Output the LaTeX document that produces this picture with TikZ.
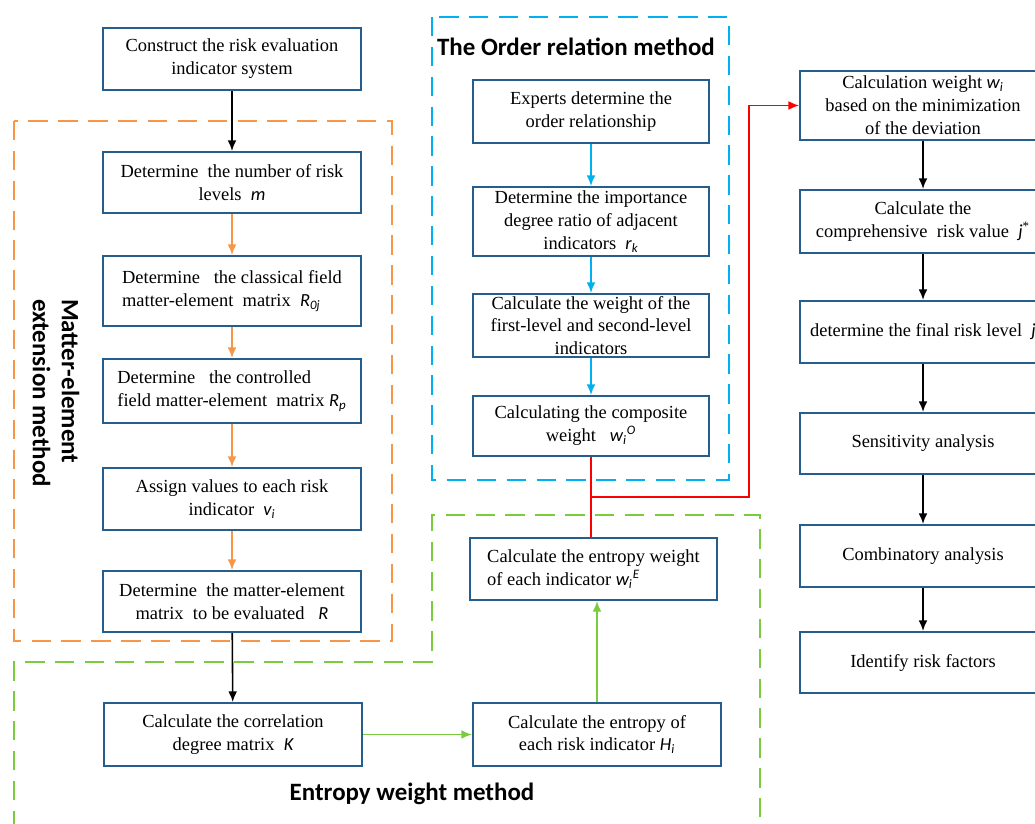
\documentclass[tikz,border=0pt]{standalone}
\usepackage{fontspec}
\setmainfont{Liberation Serif}
\newfontfamily\titlefont{Carlito}
\usetikzlibrary{arrows.meta}
\definecolor{boxblue}{RGB}{37,94,140}
\definecolor{orangeline}{RGB}{247,150,70}
\definecolor{cyanline}{RGB}{0,176,240}
\definecolor{greenline}{RGB}{122,204,60}
\newcommand{\vr}[1]{{\titlefont\itshape #1}}
\begin{document}
\begin{tikzpicture}[x=0.02cm, y=-0.02cm]
      \tikzset{block/.style={draw=boxblue, line width=1.2pt, inner sep=1pt, align=center, font=\fontsize{10.5}{13}\selectfont},
               lblock/.style={block, minimum width=5.16cm},
               oblock/.style={block, minimum width=4.72cm},
               rblock/.style={block, minimum width=4.92cm},
               frame/.style={line width=1.2pt, dash pattern=on 11pt off 6pt},
               title/.style={font=\titlefont\bfseries\fontsize{14.2}{16.5}\selectfont}}
      \useasboundingbox (0,0) rectangle (1035,824);
%% Frames
	%matter-element
		\draw[frame, orangeline] (14,121) rectangle (392,641);
	%order relation
		\draw[frame, cyanline] (432,17) rectangle (729,480);
	%entropy
		\draw[frame, greenline] (14,830) -- (14,662) -- (432,662) -- (432,515) -- (760,515) -- (760,830);
%% Titles
		\node[title, rotate=-90, align=left] (mlabel) at (56,393) {Matter-element\\extension method};
		\node[title] (olabel) at (576,47) {The Order relation method};
		\node[title] (elabel) at (412,794) {Entropy weight method};
%% Blocks
	%left column
		\node[lblock, minimum height=1.24cm] (c1) at (232,59) {Construct the risk evaluation\\indicator system};
		\node[lblock, minimum height=1.22cm] (c2) at (232,182.5) {Determine\ \ the number of risk\\levels\ \ \vr{m}};
		\node[lblock, minimum height=1.40cm, align=left] (c3) at (232,291) {Determine\ \ \ the classical field\\matter-element\ \ matrix\ \ \vr{R}\textsubscript{\vr{0j}}};
		\node[lblock, minimum height=1.28cm, align=left] (c4) at (232,391) {Determine\ \ \ the controlled\\field matter-element\ \ matrix \vr{R}\textsubscript{\vr{p}}};
		\node[lblock, minimum height=1.24cm] (c5) at (232,499) {Assign values to each risk\\indicator\ \ \vr{v}\textsubscript{\vr{i}}};
		\node[lblock, minimum height=1.22cm] (c6) at (232,601.5) {Determine\ \ the matter-element\\matrix\ \ to be evaluated\ \ \ \vr{R}};
		\node[lblock, minimum height=1.26cm] (K) at (233,734.5) {Calculate the correlation\\degree matrix\ \ \vr{K}};
	%order relation column
		\node[oblock, minimum height=1.26cm] (B1) at (591,111.5) {Experts determine the\\order relationship};
		\node[oblock, minimum height=1.38cm] (B2) at (591,221.5) {Determine the importance\\degree ratio of adjacent\\indicators\ \ \vr{r}\textsubscript{\vr{k}}};
		\node[oblock, minimum height=1.26cm, inner sep=0pt] (B3) at (591,325.5) {Calculate the weight of the\\first-level and second-level\\indicators};
		\node[oblock, minimum height=1.20cm] (B4) at (591,426) {Calculating the composite\\weight\ \ \ \vr{w}\textsubscript{\vr{i}}\textsuperscript{\vr{O}}};
	%entropy column
		\node[block, minimum width=4.94cm, minimum height=1.24cm, align=left] (E) at (593.5,569) {Calculate the entropy weight\\of each indicator \vr{w}\textsubscript{\vr{i}}\textsuperscript{\vr{E}}};
		\node[block, minimum width=4.96cm, minimum height=1.26cm] (H) at (597,734.5) {Calculate the entropy of\\each risk indicator \vr{H}\textsubscript{\vr{i}}};
	%right column
		\node[rblock, minimum height=1.38cm] (R1) at (923,105.5) {Calculation weight \vr{w}\textsubscript{\vr{i}}\\based on the minimization\\of the deviation};
		\node[rblock, minimum height=1.26cm] (R2) at (923,221.5) {Calculate the\\comprehensive\ \ risk value\ \ \vr{j}\textsuperscript{*}};
		\node[rblock, minimum height=1.24cm] (R3) at (923,332) {determine the final risk level\ \ \vr{j}};
		\node[rblock, minimum height=1.22cm] (R4) at (923,443.5) {Sensitivity analysis};
		\node[rblock, minimum height=1.24cm] (R5) at (923,556) {Combinatory analysis};
		\node[rblock, minimum height=1.22cm] (R6) at (923,662.5) {Identify risk factors};
		\coordinate (redjoin) at (591,497);
		\coordinate (redbend) at (749,497);
%% Arrows
	%black
		\path [->, > = {Latex[length=6pt, width=5pt]}, line width=0.9pt] (c1) edge (c2);
		\path [->, > = {Latex[length=6pt, width=5pt]}, line width=0.9pt] (c6) edge (K);
		\path [->, > = {Latex[length=6pt, width=5pt]}, line width=0.9pt] (R1) edge (R2);
		\path [->, > = {Latex[length=6pt, width=5pt]}, line width=0.9pt] (R2) edge (R3);
		\path [->, > = {Latex[length=6pt, width=5pt]}, line width=0.9pt] (R3) edge (R4);
		\path [->, > = {Latex[length=6pt, width=5pt]}, line width=0.9pt] (R4) edge (R5);
		\path [->, > = {Latex[length=6pt, width=5pt]}, line width=0.9pt] (R5) edge (R6);
	%orange
		\path [->, > = {Latex[length=6pt, width=5pt]}, line width=0.9pt, orangeline] (c2) edge (c3);
		\path [->, > = {Latex[length=6pt, width=5pt]}, line width=0.9pt, orangeline] (c3) edge (c4);
		\path [->, > = {Latex[length=6pt, width=5pt]}, line width=0.9pt, orangeline] (c4) edge (c5);
		\path [->, > = {Latex[length=6pt, width=5pt]}, line width=0.9pt, orangeline] (c5) edge (c6);
	%blue
		\path [->, > = {Latex[length=6pt, width=5pt]}, line width=0.9pt, cyanline] (B1) edge (B2);
		\path [->, > = {Latex[length=6pt, width=5pt]}, line width=0.9pt, cyanline] (B2) edge (B3);
		\path [->, > = {Latex[length=6pt, width=5pt]}, line width=0.9pt, cyanline] (B3) edge (B4);
	%green
		\path [->, > = {Latex[length=6pt, width=5pt]}, line width=0.9pt, greenline] (K) edge (H);
		\path [->, > = {Latex[length=6pt, width=5pt]}, line width=0.9pt, greenline] (H.north) edge (H.north |- E.south);
	%red
		\draw [red, line width=0.7pt] (B4.south) -- (B4.south |- E.north);
		\draw [->, > = {Latex[length=6pt, width=5pt]}, red, line width=0.7pt] (redjoin) -- (redbend) |- (R1.west);

	\end{tikzpicture}
\end{document}
